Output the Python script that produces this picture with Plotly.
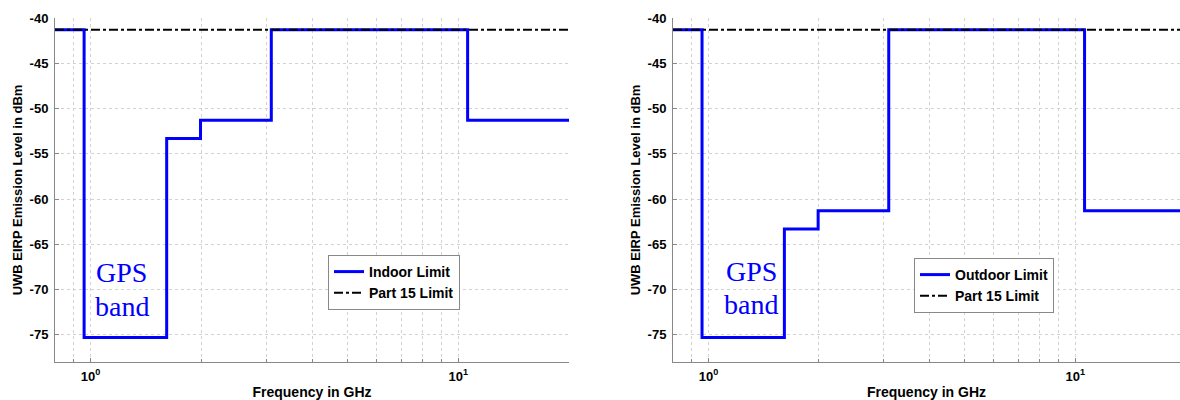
import math
import plotly.graph_objects as go

# ---- data ----
band_edges_ghz = [0.8, 0.96, 1.61, 1.99, 3.1, 10.6, 20]
indoor_limit_dbm = [-41.3, -75.3, -53.3, -51.3, -41.3, -51.3]
outdoor_limit_dbm = [-41.3, -75.3, -63.3, -61.3, -41.3, -61.3]
part15_freq_ghz = [0.8, 20]
part15_limit_dbm = [-41.3, -41.3]

y_ticks = [-75, -70, -65, -60, -55, -50, -45, -40]
x_major = [1, 10]
x_major_labels = ["<b>10<sup>0</sup></b>", "<b>10<sup>1</sup></b>"]
x_minor = [0.8, 0.9, 2, 3, 4, 5, 6, 7, 8, 9, 20]

W, H = 1180, 400
MT, MB = 18, 38
BLUE = "#0000ff"
FONT = "Liberation Sans"
GRID = "#d2d2d2"
AXIS = "#888888"


def py(pixel_y):
    """convert a pixel row to paper y (paper spans the plot area vertically)"""
    return 1 - (pixel_y - MT) / (H - MT - MB)


fig = go.Figure()

def step(levels):
    return levels + [levels[-1]]

fig.add_trace(go.Scatter(x=band_edges_ghz, y=step(indoor_limit_dbm), mode="lines",
                         line=dict(color=BLUE, width=3, shape="hv"),
                         name="<b>Indoor Limit</b>", xaxis="x", yaxis="y", legend="legend"))
fig.add_trace(go.Scatter(x=part15_freq_ghz, y=part15_limit_dbm, mode="lines",
                         line=dict(color="black", width=2, dash="dashdot"),
                         name="<b>Part 15 Limit</b>", xaxis="x", yaxis="y", legend="legend"))
fig.add_trace(go.Scatter(x=band_edges_ghz, y=step(outdoor_limit_dbm), mode="lines",
                         line=dict(color=BLUE, width=3, shape="hv"),
                         name="<b>Outdoor Limit</b>", xaxis="x2", yaxis="y2", legend="legend2"))
fig.add_trace(go.Scatter(x=part15_freq_ghz, y=part15_limit_dbm, mode="lines",
                         line=dict(color="black", width=2, dash="dashdot"),
                         name="<b>Part 15 Limit</b>", xaxis="x2", yaxis="y2", legend="legend2"))

tick_font = dict(family=FONT, size=13, color="black")

def xaxis(domain, anchor, rmax):
    return dict(type="log", domain=domain, anchor=anchor,
                range=[math.log10(0.8), math.log10(rmax)],
                tickmode="array", tickvals=x_major, ticktext=x_major_labels,
                tickfont=tick_font, showgrid=True, gridcolor=GRID,
                griddash="dot", gridwidth=1, showline=True, linecolor=AXIS,
                linewidth=1, ticks="inside", ticklen=4, tickcolor=AXIS,
                minor=dict(tickmode="array", tickvals=x_minor, showgrid=True,
                           gridcolor=GRID, griddash="dot", gridwidth=1,
                           ticks="inside", ticklen=3, tickcolor=AXIS),
                zeroline=False, automargin=False, ticklabelstandoff=2,
                title=dict(text="<b>Frequency in GHz</b>", font=dict(family=FONT, size=14),
                           standoff=4))

def yaxis(anchor):
    return dict(domain=[0, 1], anchor=anchor, range=[-78, -40],
                tickmode="array", tickvals=y_ticks, ticktext=[f"<b>{v}</b>" for v in y_ticks],
                tickfont=tick_font, showgrid=True, gridcolor=GRID,
                griddash="dot", gridwidth=1, showline=True, linecolor=AXIS,
                linewidth=1, ticks="inside", ticklen=4, tickcolor=AXIS,
                zeroline=False, automargin=False, ticklabelstandoff=3,
                title=dict(text="<b>UWB EIRP Emission Level in dBm</b>",
                           font=dict(family=FONT, size=13), standoff=4))

legend_style = dict(xanchor="left", yanchor="top", bgcolor="white", bordercolor=AXIS,
                    borderwidth=1, font=dict(family=FONT, size=14), itemwidth=30,
                    tracegroupgap=0)

fig.update_layout(
    width=W, height=H,
    margin=dict(l=0, r=0, t=MT, b=MB),
    paper_bgcolor="white", plot_bgcolor="white",
    font=dict(family=FONT, color="black"),
    xaxis=xaxis([55 / W, 569 / W], "y", 20),
    yaxis=yaxis("x"),
    xaxis2=xaxis([673 / W, 1.0], "y2", 19.3),
    yaxis2=yaxis("x2"),
    legend=dict(x=328 / W, y=py(255), **legend_style),
    legend2=dict(x=914 / W, y=py(258), **legend_style),
    showlegend=True,
)

gps_font = dict(family="Liberation Serif", size=28, color=BLUE)
for cx, gy, by in [(122, 272, 306), (751, 271, 304)]:
    fig.add_annotation(text="GPS", x=cx / W, y=py(gy), xref="paper", yref="paper",
                       showarrow=False, font=gps_font, xanchor="center", yanchor="middle")
    fig.add_annotation(text="band", x=cx / W, y=py(by), xref="paper", yref="paper",
                       showarrow=False, font=gps_font, xanchor="center", yanchor="middle")

fig.write_html("out.html", config={"displayModeBar": False},
               post_script="document.body.style.margin='0';document.body.style.overflow='hidden';")
